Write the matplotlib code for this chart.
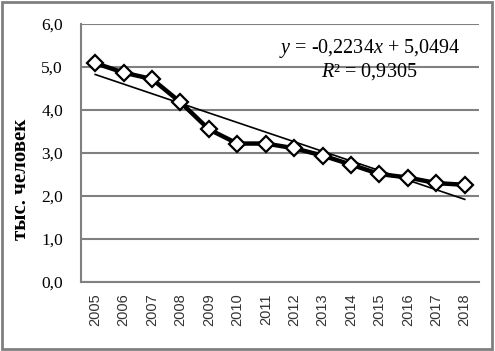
import numpy as np
import matplotlib.pyplot as plt
from matplotlib.patches import Rectangle

# Данные
years = ['2005', '2006', '2007', '2008', '2009', '2010', '2011',
         '2012', '2013', '2014', '2015', '2016', '2017', '2018']
values = [5.09, 4.87, 4.72, 4.18, 3.55, 3.22, 3.22,
          3.11, 2.94, 2.73, 2.51, 2.43, 2.30, 2.26]
slope = -0.2234
intercept = 5.0494
r2 = 0.9305

plt.rcParams['mathtext.fontset'] = 'custom'
plt.rcParams['mathtext.rm'] = 'Liberation Serif'
plt.rcParams['mathtext.it'] = 'Liberation Serif:italic'

fig = plt.figure(figsize=(4.95, 3.51), dpi=100)
ax = fig.add_axes([0.1636, 0.1966, 0.804, 0.735])

x = np.arange(len(years))
trend = slope * (x + 1) + intercept

ax.plot(x, trend, color='black', lw=1.2, zorder=3)
ax.plot(x, values, color='black', lw=3.2, marker='D', markersize=8.5,
        markerfacecolor='white', markeredgecolor='black', markeredgewidth=1.6, zorder=4)

ax.set_xlim(-0.5, len(years) - 0.5)
ax.set_ylim(0, 6)
ax.set_yticks(np.arange(0, 6.1, 1.0))
ax.set_yticklabels([('%.1f' % v).replace('.', ',') for v in np.arange(0, 6.1, 1.0)],
                   fontfamily='Liberation Serif', fontsize=12.5)
ax.set_xticks(x)
ax.set_xticklabels(years, rotation=90, fontfamily='Liberation Sans', fontsize=10.5, color='#333333')
ax.tick_params(axis='y', length=0, pad=13)
ax.tick_params(axis='x', length=0, pad=8)

ax.grid(axis='y', color='#808080', lw=1.5)
ax.set_axisbelow(True)
for s in ['top', 'right']:
    ax.spines[s].set_visible(False)
ax.spines['left'].set_color('#808080')
ax.spines['bottom'].set_color('#808080')
ax.spines['left'].set_linewidth(1.5)
ax.spines['bottom'].set_linewidth(1.5)

ax.set_ylabel('тыс. человек', fontfamily='Liberation Serif', fontweight='bold', fontsize=15)
ax.yaxis.set_label_coords(-0.125, 0.397)

eq = '$y$ = ' + ('%.4f' % slope).replace('.', ',') + '$x$ + ' + ('%.4f' % intercept).replace('.', ',')
ax.text(0.725, 0.905, eq, transform=ax.transAxes, ha='center', va='center',
        fontfamily='Liberation Serif', fontsize=14.5)
ax.text(0.725, 0.815, '$R$² = ' + ('%.4f' % r2).replace('.', ','), transform=ax.transAxes,
        ha='center', va='center', fontfamily='Liberation Serif', fontsize=14.5)

fig.patches.append(Rectangle((0.004, 0.006), 0.99, 0.988, transform=fig.transFigure,
                             fill=False, edgecolor='#808080', lw=2))

fig.savefig('out.png', dpi=100)
